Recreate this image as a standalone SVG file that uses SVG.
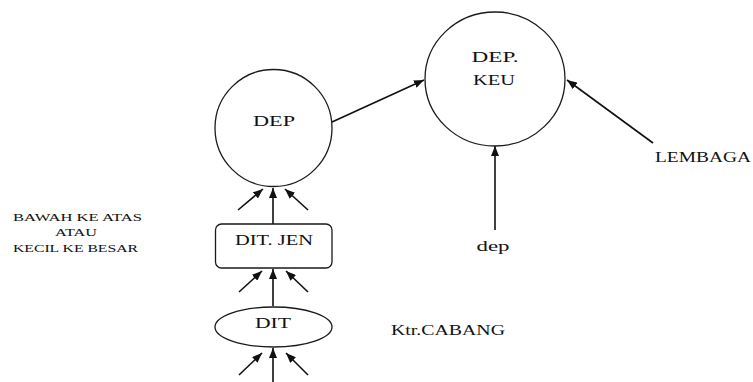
<svg xmlns="http://www.w3.org/2000/svg" width="753" height="382" viewBox="0 0 753 382">
<style>
  .shape { fill: #ffffff; stroke: #1a1a1a; stroke-width: 1.3; }
  .lbl { font-family: "Liberation Serif", "Times New Roman", serif; font-size: 15px; fill: #111111; }
  .small { font-family: "Liberation Serif", "Times New Roman", serif; font-size: 10.5px; fill: #111111; }
  .edge { stroke: #111111; stroke-width: 1.6; fill: none; marker-end: url(#ah); }
</style>
<defs>
  <marker id="ah" markerUnits="userSpaceOnUse" markerWidth="10" markerHeight="8" refX="10" refY="4" orient="auto">
    <path d="M0,0 L10,4 L0,8 z" fill="#111111"/>
  </marker>
</defs>
<rect width="753" height="382" fill="#ffffff"/>
<g id="connectors">
  <line class="edge" x1="332" y1="122" x2="424" y2="80"/>
  <line class="edge" x1="653" y1="143" x2="567" y2="80"/>
  <line class="edge" x1="495" y1="230" x2="495" y2="146"/>
  <line class="edge" x1="238" y1="210" x2="263" y2="189"/>
  <line class="edge" x1="273" y1="224" x2="273" y2="188"/>
  <line class="edge" x1="308" y1="210" x2="285" y2="189"/>
  <line class="edge" x1="239" y1="292" x2="262" y2="271"/>
  <line class="edge" x1="273" y1="306" x2="273" y2="269"/>
  <line class="edge" x1="308" y1="292" x2="286" y2="271"/>
  <line class="edge" x1="239" y1="375" x2="262" y2="353"/>
  <line class="edge" x1="273" y1="382" x2="273" y2="348"/>
  <line class="edge" x1="308" y1="375" x2="286" y2="353"/>
</g>
<g id="dep">
  <circle class="shape" cx="273.5" cy="128" r="58.5"/>
  <text class="lbl" x="274" y="126" text-anchor="middle" textLength="42" lengthAdjust="spacingAndGlyphs">DEP</text>
</g>
<g id="depkeu">
  <ellipse class="shape" cx="495" cy="79" rx="70" ry="67"/>
  <text class="lbl" x="495" y="62" text-anchor="middle" textLength="47" lengthAdjust="spacingAndGlyphs">DEP.</text>
  <text class="lbl" x="494" y="85" text-anchor="middle" textLength="42" lengthAdjust="spacingAndGlyphs">KEU</text>
</g>
<g id="lembaga">
  <text class="lbl" x="655" y="162" textLength="96" lengthAdjust="spacingAndGlyphs">LEMBAGA</text>
</g>
<g id="dep-lower">
  <text class="lbl" x="493" y="251" text-anchor="middle" textLength="33" lengthAdjust="spacingAndGlyphs">dep</text>
</g>
<g id="ditjen">
  <rect class="shape" x="215.5" y="224" width="116.5" height="44" rx="6" ry="6"/>
  <text class="lbl" x="274" y="245" text-anchor="middle" textLength="78" lengthAdjust="spacingAndGlyphs">DIT. JEN</text>
</g>
<g id="dit">
  <ellipse class="shape" cx="273.5" cy="327" rx="58.5" ry="20"/>
  <text class="lbl" x="273" y="328" text-anchor="middle" textLength="36" lengthAdjust="spacingAndGlyphs">DIT</text>
</g>
<g id="ktrcabang">
  <text class="lbl" x="391" y="335" textLength="114" lengthAdjust="spacingAndGlyphs">Ktr.CABANG</text>
</g>
<g id="note">
  <text class="small" x="13" y="221" textLength="129" lengthAdjust="spacingAndGlyphs">BAWAH KE ATAS</text>
  <text class="small" x="55" y="236" textLength="42" lengthAdjust="spacingAndGlyphs">ATAU</text>
  <text class="small" x="13" y="252" textLength="125" lengthAdjust="spacingAndGlyphs">KECIL KE BESAR</text>
</g>
</svg>
